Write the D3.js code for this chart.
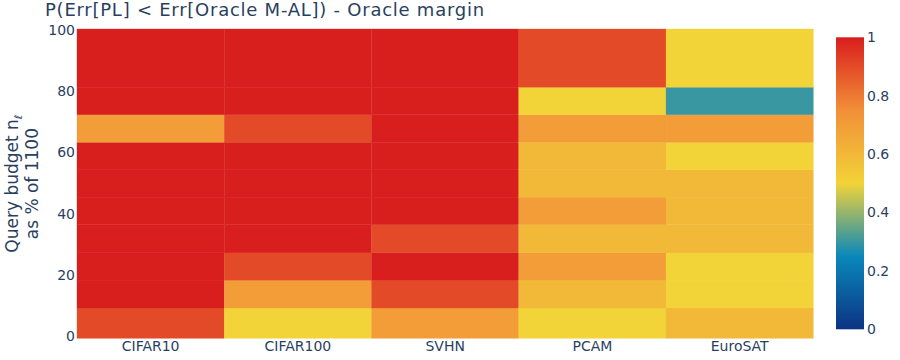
<!DOCTYPE html>
<html>
<head>
<meta charset="utf-8">
<script src="https://cdn.jsdelivr.net/npm/d3@7"></script>
<style>
  body { margin: 0; background: #fff; }
  text { font-family: "DejaVu Sans", Verdana, sans-serif; fill: #2a3f5f; }
</style>
</head>
<body>
<svg id="heat"></svg>
<script>
const size = {w: 900, h: 360};
const margin = {t: 29, r: 87, b: 22, l: 77};

// datasets along x
const datasets = ['CIFAR10', 'CIFAR100', 'SVHN', 'PCAM', 'EuroSAT'];
// row edges of the query budget bins (% of 1100), bottom to top
const budgetEdges = [-0.7, 9.2, 18.3, 27.2, 36.4, 45.4, 54.3, 63.3, 72.3, 81.3, 100.3];
// probability per dataset, rows bottom to top
const cifar10  = [0.9, 1.0, 1.0, 1.0, 1.0, 1.0, 1.0, 0.7, 1.0, 1.0];
const cifar100 = [0.5, 0.7, 0.9, 1.0, 1.0, 1.0, 1.0, 0.9, 1.0, 1.0];
const svhn     = [0.7, 0.9, 1.0, 0.9, 1.0, 1.0, 1.0, 1.0, 1.0, 1.0];
const pcam     = [0.5, 0.6, 0.7, 0.6, 0.7, 0.6, 0.6, 0.7, 0.5, 0.9];
const eurosat  = [0.6, 0.5, 0.5, 0.6, 0.6, 0.6, 0.5, 0.7, 0.3, 0.5];
const yTicks = [0, 20, 40, 60, 80, 100];
const cbTicks = [0, 0.2, 0.4, 0.6, 0.8, 1];

// plotly "Portland" colorscale
const portland = [[0, 'rgb(12,51,131)'], [0.25, 'rgb(10,136,186)'], [0.5, 'rgb(242,211,56)'],
                  [0.75, 'rgb(242,143,56)'], [1, 'rgb(217,30,30)']];
const color = d3.scaleLinear()
    .domain(portland.map(d => d[0]))
    .range(portland.map(d => d[1]))
    .interpolate(d3.interpolateRgb);

const svg = d3.select('svg#heat')
    .attr('width', size.w)
    .attr('height', size.h);

const pw = 813.3 - margin.l;
const ph = 338.3 - margin.t;

const x = d3.scaleBand().domain(datasets).range([margin.l, margin.l + pw]).padding(0);
const y = d3.scaleLinear().domain([budgetEdges[0], budgetEdges[budgetEdges.length - 1]])
    .range([margin.t + ph, margin.t]);

const cols = [cifar10, cifar100, svhn, pcam, eurosat];
const cells = [];
cols.forEach((vals, i) => {
    vals.forEach((v, j) => {
        cells.push({ds: datasets[i], lo: budgetEdges[j], hi: budgetEdges[j + 1], v: v});
    });
});

svg.append('g')
    .selectAll('rect')
    .data(cells)
    .join('rect')
    .attr('x', d => x(d.ds))
    .attr('y', d => y(d.hi))
    .attr('width', x.bandwidth())
    .attr('height', d => y(d.lo) - y(d.hi))
    .attr('fill', d => color(d.v))
    .attr('stroke', d => color(d.v))
    .attr('stroke-width', 0.3);

// axes (no lines, just labels)
const yAxis = svg.append('g')
    .attr('transform', `translate(${margin.l}, 0)`)
    .call(d3.axisLeft(y).tickValues(yTicks).tickSize(0).tickPadding(2));
yAxis.select('.domain').remove();
yAxis.selectAll('text').style('font-size', '14px');

const xAxis = svg.append('g')
    .attr('transform', `translate(0, ${margin.t + ph})`)
    .call(d3.axisBottom(x).tickSize(0).tickPadding(3));
xAxis.select('.domain').remove();
xAxis.selectAll('text').style('font-size', '14px');

// y title, two lines
const yTitle = svg.append('text')
    .attr('transform', `translate(0, ${margin.t + ph / 2}) rotate(-90)`)
    .attr('text-anchor', 'middle')
    .style('font-size', '17px');
const l1 = yTitle.append('tspan').attr('x', 0).attr('y', 18);
l1.append('tspan').text('Query budget n');
l1.append('tspan').text('ℓ').attr('dy', 4).style('font-size', '11px');
yTitle.append('tspan').attr('x', 0).attr('y', 38).text('as % of 1100');

// title
svg.append('text')
    .attr('x', 45)
    .attr('y', 16)
    .style('font-size', '18px')
    .style('letter-spacing', '0.75px')
    .text('P(Err[PL] < Err[Oracle M-AL]) - Oracle margin');

// colorbar
const cb = {x: 836, y0: 37.3, y1: 329.3, w: 28};
const defs = svg.append('defs');
const grad = defs.append('linearGradient')
    .attr('id', 'cbgrad')
    .attr('x1', 0).attr('x2', 0).attr('y1', 1).attr('y2', 0);
grad.selectAll('stop')
    .data(portland)
    .join('stop')
    .attr('offset', d => d[0])
    .attr('stop-color', d => d[1]);
svg.append('rect')
    .attr('x', cb.x)
    .attr('y', cb.y0)
    .attr('width', cb.w)
    .attr('height', cb.y1 - cb.y0)
    .attr('fill', 'url(#cbgrad)');

const cbScale = d3.scaleLinear().domain([0, 1]).range([cb.y1, cb.y0]);
const cbAxis = svg.append('g')
    .attr('transform', `translate(${cb.x + cb.w}, 0)`)
    .call(d3.axisRight(cbScale).tickValues(cbTicks).tickFormat(d3.format('')).tickSize(0).tickPadding(3));
cbAxis.select('.domain').remove();
cbAxis.selectAll('text').style('font-size', '14px');
</script>
</body>
</html>
